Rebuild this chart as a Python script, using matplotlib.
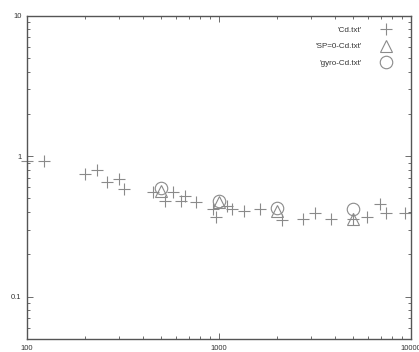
import matplotlib
matplotlib.use("Agg")
import matplotlib.pyplot as plt
from matplotlib.ticker import LogLocator, FixedLocator, NullFormatter

cd_x = [100, 123, 201, 232, 261, 301, 321, 455, 523, 578, 631, 665, 759, 927, 968,
        1100, 1165, 1355, 1636, 2118, 2728, 3162, 3818, 5000, 5916, 6900, 7413, 9310]
cd_y = [0.93, 0.93, 0.75, 0.80, 0.66, 0.69, 0.58, 0.56, 0.48, 0.56, 0.48, 0.52, 0.47, 0.42, 0.37,
        0.44, 0.42, 0.41, 0.42, 0.35, 0.36, 0.395, 0.36, 0.36, 0.37, 0.46, 0.395, 0.395]
sp_x = [500, 1000, 2000, 5000]
sp_y = [0.57, 0.47, 0.41, 0.36]
gyro_x = [500, 1000, 2000, 5000]
gyro_y = [0.59, 0.48, 0.43, 0.42]

x_ticks = [100, 1000, 10000]
x_labels = ["100", "1000", "10000"]
y_ticks = [0.1, 1, 10]
y_labels = ["0.1", "1", "10"]

plt.rcParams['font.family'] = ['Liberation Sans', 'DejaVu Sans']

fig = plt.figure(figsize=(4.19, 3.52), dpi=100)
ax = fig.add_axes([27/419, 13/352, (411-27)/419, (339-15.7)/352])

gray = "#8a8a8a"
ax.plot(cd_x, cd_y, linestyle='none', marker='+', markersize=9, markeredgewidth=0.8,
        color=gray, label="'Cd.txt'", clip_on=False)
ax.plot(sp_x, sp_y, linestyle='none', marker='^', markersize=8, markeredgewidth=0.8,
        markerfacecolor='none', color=gray, label="'SP=0-Cd.txt'", clip_on=False)
ax.plot(gyro_x, gyro_y, linestyle='none', marker='o', markersize=9, markeredgewidth=0.8,
        markerfacecolor='none', color=gray, label="'gyro-Cd.txt'", clip_on=False)

ax.set_xscale('log')
ax.set_yscale('log')
ax.set_xlim(100, 10000)
ax.set_ylim(0.05, 10)

ax.xaxis.set_major_locator(FixedLocator(x_ticks))
ax.set_xticklabels(x_labels)
ax.yaxis.set_major_locator(FixedLocator(y_ticks))
ax.set_yticklabels(y_labels)
ax.xaxis.set_minor_locator(LogLocator(base=10, subs=range(2, 10)))
ax.yaxis.set_minor_locator(LogLocator(base=10, subs=range(2, 10)))
ax.xaxis.set_minor_formatter(NullFormatter())
ax.yaxis.set_minor_formatter(NullFormatter())

ax.tick_params(which='both', direction='in', top=True, right=True, colors="#555555",
               labelcolor="#333333", labelsize=5.5, width=0.6)
ax.tick_params(which='major', length=4, pad=4)
ax.tick_params(which='minor', length=2)
for s in ax.spines.values():
    s.set_color("#555555")
    s.set_linewidth(1.0)

leg = ax.legend(loc='upper right', markerfirst=False, frameon=False, fontsize=5.8,
                handlelength=1.5, handletextpad=2.2, labelspacing=1.1,
                bbox_to_anchor=(0.965, 0.985), borderaxespad=0.3)
for t in leg.get_texts():
    t.set_color("#333333")

fig.savefig("out.png", dpi=100)
